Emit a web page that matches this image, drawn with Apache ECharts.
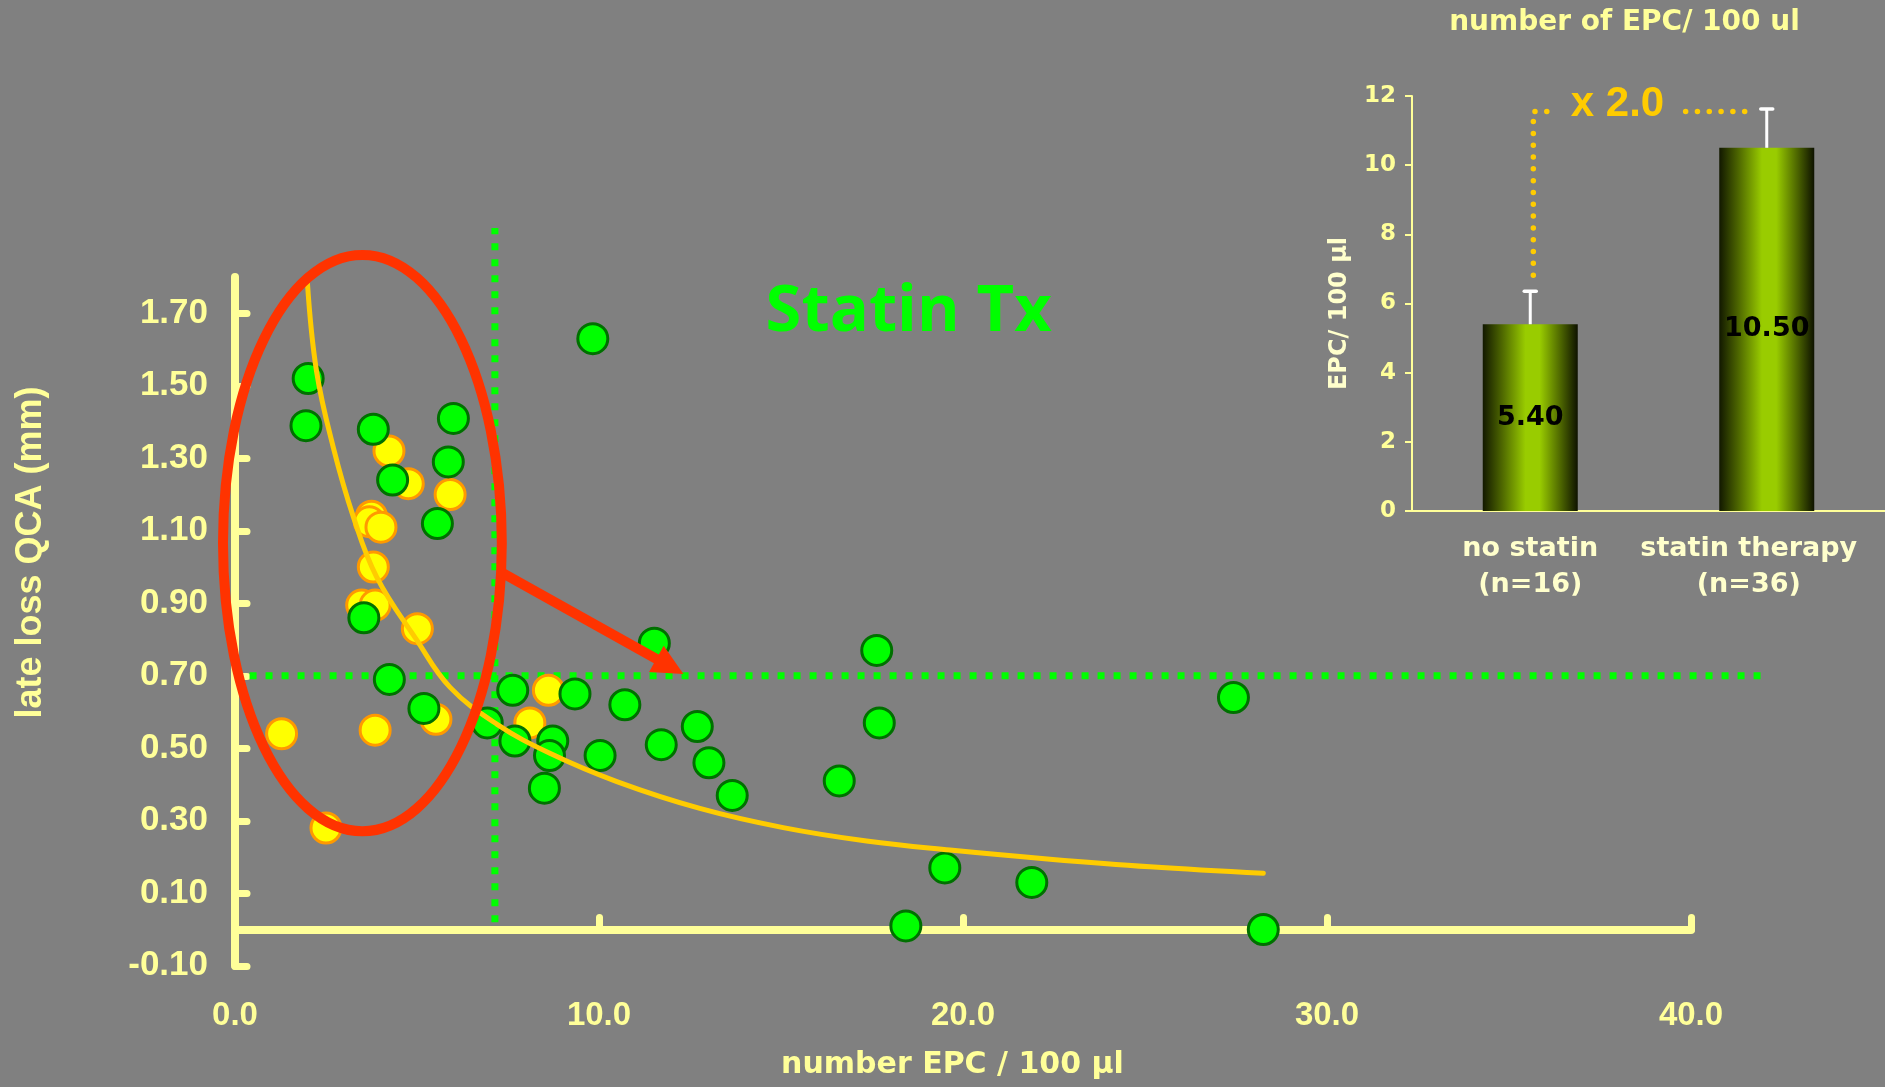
<!DOCTYPE html>
<html><head><meta charset="utf-8">
<script src="https://cdn.jsdelivr.net/npm/echarts@6/dist/echarts.min.js"></script>
<style>html,body{margin:0;padding:0;background:#808080;}#c{width:1885px;height:1087px;}</style>
</head><body><div id="c"></div>
<script>
// ---------- main scatter data ----------
const noStatinPoints = [[4.23,1.32],[4.76,1.23],[5.91,1.20],[3.75,1.14],[3.69,1.125],[4.01,1.11],[3.80,1.00],[3.48,0.895],[3.85,0.895],[5.01,0.83],[5.52,0.58],[1.28,0.54],[3.85,0.55],[2.50,0.28],[8.61,0.66],[8.10,0.57]];
const statinPoints = [[2.01,1.52],[1.95,1.39],[3.80,1.38],[6.00,1.41],[5.86,1.29],[4.33,1.24],[5.56,1.12],[3.54,0.86],[4.24,0.69],[5.19,0.61],[6.93,0.57],[7.63,0.66],[7.69,0.52],[8.73,0.52],[8.64,0.48],[8.50,0.39],[9.34,0.65],[10.03,0.48],[10.71,0.62],[11.52,0.79],[11.71,0.51],[12.70,0.56],[13.02,0.46],[13.66,0.37],[16.60,0.41],[17.63,0.77],[17.70,0.57],[19.50,0.17],[21.89,0.13],[18.43,0.01],[27.43,0.64],[28.25,0.00],[9.83,1.63]];
const fitCurve = [[1.99,1.783],[2.24,1.54],[2.70,1.33],[3.25,1.139],[3.89,0.973],[4.99,0.799],[5.91,0.668],[7.20,0.566],[8.65,0.486],[10.49,0.408],[12.77,0.334],[15.06,0.281],[17.35,0.244],[19.64,0.219],[22.39,0.194],[25.14,0.173],[28.25,0.155]];
const cutoffVertical = [[7.14,0.02],[7.14,1.935]];
const cutoffHorizontal = [[0.4,0.70],[42,0.70]];
const ellipseNote = [[3.50,1.066,3.83,0.795]];   // cx, cy, rx, ry (data units)
const arrowNote = [[7.38,0.982,12.32,0.705]];    // from x,y to x,y (data units)
const xTicks = [0,10,20,30,40];
const xTickMarks = [10,20,30,40];
const yTicks = [-0.1,0.1,0.3,0.5,0.7,0.9,1.1,1.3,1.5,1.7];

// ---------- inset bar data ----------
const groups = ['no statin\n(n=16)','statin therapy\n(n=36)'];
const epcMeans = [5.40,10.50];
const epcErrTop = [6.35,11.62];
const foldPathLeft = [[0.07,11.55],[0.013,11.55],[0.013,6.71]];
const foldPathRight = [[0.657,11.55],[0.911,11.55]];
const foldLabel = 'x 2.0';

const PALE = '#FFFF99';
const chart = echarts.init(document.getElementById('c'), null, {renderer:'canvas'});

const barGrad = {type:'linear',x:0,y:0,x2:1,y2:0,colorStops:[
  {offset:0,color:'#121800'},{offset:0.2,color:'#4d6600'},{offset:0.45,color:'#99cc00'},
  {offset:0.6,color:'#99cc00'},{offset:0.82,color:'#4d6600'},{offset:1,color:'#0e1200'}]};

function polyRender(style){
  return (params, api) => {
    if (params.dataIndexInside !== 0) return null;
    const pts = [];
    for (let i = 0; i < params.dataInsideLength; i++) pts.push(api.coord([api.value(0,i), api.value(1,i)]));
    return {type:'polyline', shape:{points:pts}, style:Object.assign({fill:'none'}, style)};
  };
}
const greenDots = {stroke:'#00FF00', lineWidth:7, lineDash:[7,9]};
const orangeDots = {stroke:'#FFCC00', lineWidth:5.5, lineDash:[0.01,11.8], lineCap:'round'};

chart.setOption({
  backgroundColor:'#808080',
  animation:false,
  grid:[
    {left:235,right:194,top:277,bottom:121.25,outerBoundsMode:'none'},
    {left:1412,right:0,top:95.9,bottom:576,outerBoundsMode:'none'}
  ],
  xAxis:[
    {type:'value',gridIndex:0,min:0,max:40,splitLine:{show:false},
     axisLine:{show:true,onZero:true,lineStyle:{color:PALE,width:8,cap:'round'}},
     axisTick:{show:true,inside:true,length:12,customValues:xTickMarks,lineStyle:{color:PALE,width:7,cap:'round'}},
     axisLabel:{customValues:xTicks,formatter:v=>v.toFixed(1),margin:34,color:PALE,fontSize:33,fontWeight:'bold',fontFamily:'Liberation Sans'}},
    {type:'category',gridIndex:1,data:groups,
     axisLine:{show:true,onZero:false,lineStyle:{color:PALE,width:2}},
     axisTick:{show:false},
     axisLabel:{interval:0,margin:20,color:'#FFFFCC',fontSize:27,fontWeight:'bold',fontFamily:'DejaVu Sans',lineHeight:36,
       formatter:(v,i)=> i===1 ? v.split('\n').map(s=>'{r|'+s+'}').join('\n') : v,
       rich:{r:{color:'#FFFFCC',fontSize:27,fontWeight:'bold',fontFamily:'DejaVu Sans',lineHeight:36,padding:[0,36,0,0]}}}},
    {type:'value',gridIndex:1,min:-0.5,max:1.5,show:false}
  ],
  yAxis:[
    {type:'value',gridIndex:0,min:-0.1,max:1.8,splitLine:{show:false},
     axisLine:{show:true,onZero:false,lineStyle:{color:PALE,width:8,cap:'round'}},
     axisTick:{show:true,inside:true,length:12,customValues:yTicks,lineStyle:{color:PALE,width:7,cap:'round'}},
     axisLabel:{customValues:yTicks,formatter:v=>v.toFixed(2),margin:27,color:PALE,fontSize:35,fontWeight:'bold',fontFamily:'Liberation Sans'}},
    {type:'value',gridIndex:1,min:0,max:12,interval:2,splitLine:{show:false},
     axisLine:{show:true,onZero:false,lineStyle:{color:PALE,width:2}},
     axisTick:{show:true,length:7,lineStyle:{color:PALE,width:2}},
     axisLabel:{margin:16,color:PALE,fontSize:23,fontWeight:'bold',fontFamily:'DejaVu Sans'}}
  ],
  series:[
    {type:'custom',xAxisIndex:0,yAxisIndex:0,data:cutoffVertical,clip:false,silent:true,z:2,renderItem:polyRender(greenDots)},
    {type:'custom',xAxisIndex:0,yAxisIndex:0,data:cutoffHorizontal,clip:false,silent:true,z:2,renderItem:polyRender(greenDots)},
    {type:'scatter',xAxisIndex:0,yAxisIndex:0,data:noStatinPoints,symbolSize:30,z:3,
     itemStyle:{color:'#FFFF00',borderColor:'#FF9900',borderWidth:3,opacity:1}},
    {type:'scatter',xAxisIndex:0,yAxisIndex:0,data:statinPoints,symbolSize:30,z:4,
     itemStyle:{color:'#00FF00',borderColor:'#007000',borderWidth:3,opacity:1}},
    {type:'line',xAxisIndex:0,yAxisIndex:0,data:fitCurve,symbol:'none',smooth:0.4,clip:false,z:5,
     lineStyle:{color:'#FFCC00',width:5,cap:'round'}},
    {type:'custom',xAxisIndex:0,yAxisIndex:0,data:ellipseNote,clip:false,z:6,silent:true,
     renderItem:(p,api)=>{
       const c=api.coord([api.value(0),api.value(1)]);
       const s=api.size([api.value(2),api.value(3)]);
       return {type:'ellipse',shape:{cx:c[0],cy:c[1],rx:s[0],ry:s[1]},style:{fill:'none',stroke:'#FF3300',lineWidth:10}};
     }},
    {type:'custom',xAxisIndex:0,yAxisIndex:0,data:arrowNote,clip:false,z:7,silent:true,
     renderItem:(p,api)=>{
       const a=api.coord([api.value(0),api.value(1)]);
       const b=api.coord([api.value(2),api.value(3)]);
       const ang=Math.atan2(b[1]-a[1],b[0]-a[0]);
       const hl=31,hw=15;
       const bx=b[0]-hl*Math.cos(ang),by=b[1]-hl*Math.sin(ang);
       const nx=-Math.sin(ang),ny=Math.cos(ang);
       return {type:'group',children:[
         {type:'line',shape:{x1:a[0],y1:a[1],x2:bx+2*Math.cos(ang),y2:by+2*Math.sin(ang)},style:{stroke:'#FF3300',lineWidth:10}},
         {type:'polygon',shape:{points:[[b[0],b[1]],[bx+nx*hw,by+ny*hw],[bx-nx*hw,by-ny*hw]]},style:{fill:'#FF3300'}}
       ]};
     }},
    // inset
    {type:'bar',xAxisIndex:1,yAxisIndex:1,data:epcMeans,barWidth:95,z:2,
     itemStyle:{color:barGrad},
     label:{show:true,position:'inside',formatter:p=>p.value.toFixed(2),color:'#000',fontSize:27,fontWeight:'bold',fontFamily:'DejaVu Sans'}},
    {type:'custom',xAxisIndex:1,yAxisIndex:1,z:3,silent:true,
     data:epcMeans.map((m,i)=>[i,m,epcErrTop[i]]),
     renderItem:(p,api)=>{
       const x=api.value(0);
       const p0=api.coord([x,api.value(1)]);
       const p1=api.coord([x,api.value(2)]);
       return {type:'group',children:[
         {type:'line',shape:{x1:p0[0],y1:p0[1],x2:p1[0],y2:p1[1]},style:{stroke:'#FFFFFF',lineWidth:3}},
         {type:'line',shape:{x1:p1[0]-6,y1:p1[1],x2:p1[0]+6,y2:p1[1]},style:{stroke:'#FFFFFF',lineWidth:3.5,lineCap:'round'}}
       ]};
     }},
    {type:'custom',xAxisIndex:2,yAxisIndex:1,data:foldPathLeft,clip:false,silent:true,z:4,renderItem:polyRender(orangeDots)},
    {type:'custom',xAxisIndex:2,yAxisIndex:1,data:foldPathRight,clip:false,silent:true,z:4,renderItem:polyRender(orangeDots)}
  ],
  graphic:[
    {type:'text',x:31,y:552.5,rotation:Math.PI/2,style:{text:'late loss QCA (mm)',fill:PALE,font:'bold 36px "Liberation Sans"',align:'center',verticalAlign:'middle'}},
    {type:'text',x:952.5,y:1065,style:{text:'number EPC / 100 µl',fill:PALE,font:'bold 30px "DejaVu Sans"',align:'center',verticalAlign:'middle'}},
    {type:'text',x:908.7,y:312.5,style:{text:'Statin Tx',fill:'#00FF00',font:'bold 65px "Open Sans"',align:'center',verticalAlign:'middle'}},
    {type:'text',x:1624.5,y:22.5,style:{text:'number of EPC/ 100 ul',fill:PALE,font:'bold 28px "DejaVu Sans"',align:'center',verticalAlign:'middle'}},
    {type:'text',x:1340,y:313.5,rotation:Math.PI/2,style:{text:'EPC/ 100 µl',fill:'#FFFFCC',font:'bold 24px "DejaVu Sans"',align:'center',verticalAlign:'middle'}},
    {type:'text',x:1617.5,y:104,style:{text:foldLabel,fill:'#FFCC00',font:'bold 42px "Liberation Sans"',align:'center',verticalAlign:'middle'}}
  ]
});
</script></body></html>
